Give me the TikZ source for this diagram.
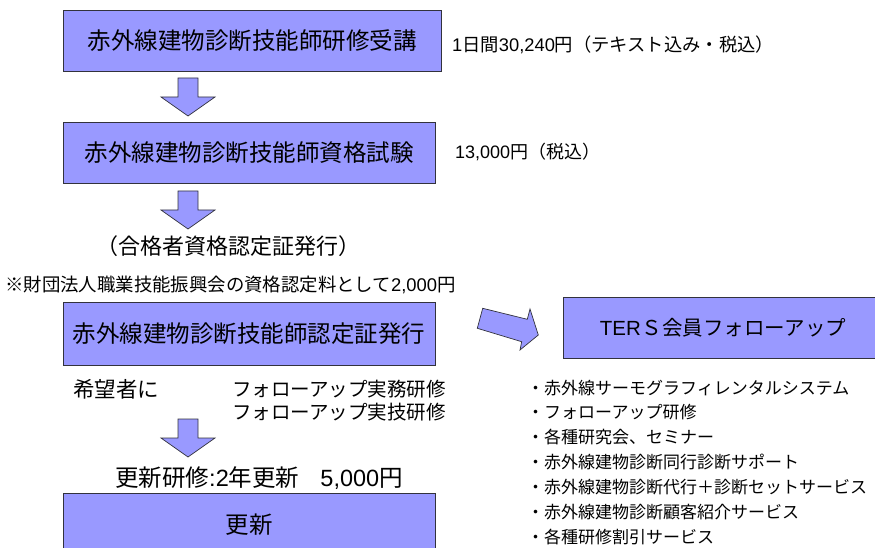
\documentclass[tikz,border=0pt]{standalone}
\usepackage{fontspec}
\setmainfont{Noto Sans CJK JP}
\newfontfamily\lat{Liberation Sans}
\definecolor{boxfill}{RGB}{153,153,255}
\definecolor{edge}{RGB}{50,50,60}
\begin{document}
\begin{tikzpicture}[x=1pt,y=-1pt,
  box/.style={draw=edge, line width=0.9pt, fill=boxfill, inner sep=0pt},
  blockarrow/.style={draw=edge, line width=0.7pt, fill=boxfill, line join=miter},
  big/.style={font=\fontsize{23.5}{28}\selectfont},
  mid/.style={font=\fontsize{22}{26}\selectfont},
  small/.style={font=\fontsize{18.3}{22}\selectfont},
  bullet/.style={font=\fontsize{17}{20}\selectfont, anchor=west, inner sep=0pt},
  downarr/.pic={\draw[blockarrow] (-10,0) -- (10,0) -- (10,19) -- (27,19) -- (0,38) -- (-27,19) -- (-10,19) -- cycle;}
]
\useasboundingbox (0,0) rectangle (875,548);

% main boxes
\node[box, big, minimum width=378pt, minimum height=61pt] (b1) at (252,40.5) {赤外線建物診断技能師研修受講};
\node[box, big, minimum width=372pt, minimum height=61pt] (b2) at (249,153) {赤外線建物診断技能師資格試験};
\node[box, big, minimum width=372pt, minimum height=63pt] (b3) at (249,333.5) {赤外線建物診断技能師認定証発行};
\node[box, big, minimum width=372pt, minimum height=63pt] (b4) at (249,524.5) {更新};
\node[box, font=\fontsize{20.5}{24}\selectfont, minimum width=320pt, minimum height=61pt] (ters) at (723,327.5) {{\lat TER}\kern1pt Ｓ会員フォローアップ};

% side texts
\node[small, anchor=west, inner sep=0pt] (t1) at (452,45) {{\lat 1}日間{\lat 30,240}円（テキスト込み・税込）};
\node[small, font=\fontsize{18}{22}\selectfont, anchor=west, inner sep=0pt] (t2) at (455,152) {{\lat 13,000}円（税込）};
\node[mid, inner sep=0pt] (t3) at (228,246) {（合格者資格認定証発行）};
\node[small, font=\fontsize{18.4}{22}\selectfont, anchor=west, inner sep=0pt] (t4) at (5,285) {※財団法人職業技能振興会の資格認定料として{\lat 2,000}円};
\node[font=\fontsize{21.5}{25}\selectfont, anchor=west, inner sep=0pt] (t5) at (73,389) {希望者に};
\node[font=\fontsize{19.5}{23}\selectfont, anchor=west, inner sep=0pt] (t6) at (232,389) {フォローアップ実務研修};
\node[font=\fontsize{19.5}{23}\selectfont, anchor=west, inner sep=0pt] (t7) at (232,412) {フォローアップ実技研修};
\node[font=\fontsize{23.5}{27}\selectfont, inner sep=0pt] (t8) at (259,478) {更新研修{\lat :2}年更新\hspace{0.9em}{\lat 5,000}円};

% bullet list
\node[bullet] (l1) at (527,388) {・赤外線サーモグラフィレンタルシステム};
\node[bullet] (l2) at (527,412) {・フォローアップ研修};
\node[bullet] (l3) at (527,437) {・各種研究会、セミナー};
\node[bullet] (l4) at (527,462) {・赤外線建物診断同行診断サポート};
\node[bullet] (l5) at (527,487) {・赤外線建物診断代行＋診断セットサービス};
\node[bullet] (l6) at (527,512) {・赤外線建物診断顧客紹介サービス};
\node[bullet] (l7) at (527,537) {・各種研修割引サービス};

% block arrows
\pic at (188,78) {downarr};
\pic at (188,191) {downarr};
\pic at (188,419) {downarr};
\draw[blockarrow] (482.7,308.3) -- (527.3,319.3) -- (530,309) -- (538.3,335) -- (520,350) -- (521.7,341.7) -- (477.3,328.3) -- cycle;
\end{tikzpicture}
\end{document}
